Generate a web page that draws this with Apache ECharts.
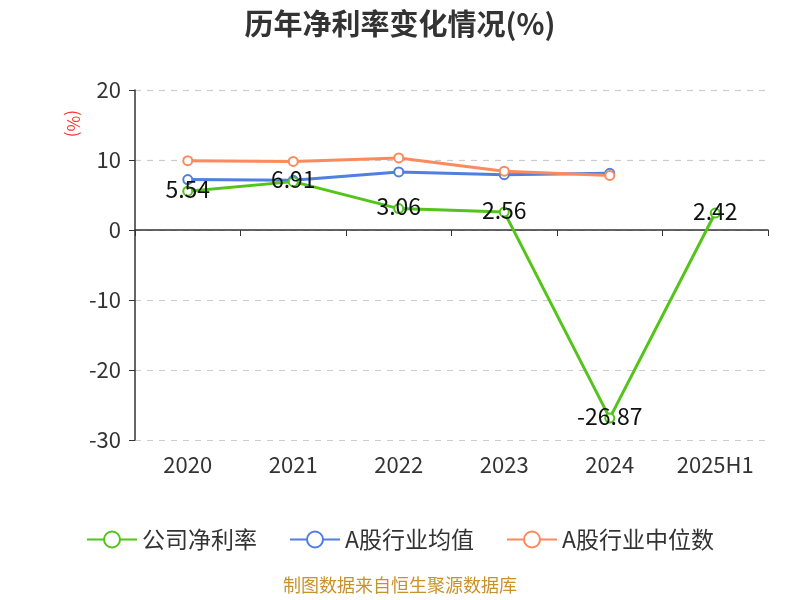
<!DOCTYPE html>
<html><head><meta charset="utf-8">
<script src="https://cdn.jsdelivr.net/npm/echarts@6/dist/echarts.min.js"></script>
<style>html,body{margin:0;padding:0;background:#fff}#c{width:800px;height:600px}</style>
</head><body><div id="c"></div>
<script>
const categories = ['2020','2021','2022','2023','2024','2025H1'];
const companyNet = [5.54, 6.91, 3.06, 2.56, -26.87, 2.42];
const industryAvg = [7.2, 7.1, 8.3, 7.9, 8.1, null];
const industryMedian = [9.9, 9.8, 10.3, 8.4, 7.8, null];

const chart = echarts.init(document.getElementById('c'));
const font = '"Microsoft YaHei","Noto Sans CJK SC",sans-serif';
chart.setOption({
  backgroundColor: '#fff',
  textStyle: {fontFamily: font},
  title: {text: '历年净利率变化情况(%)', left: 'center', top: 4,
    textStyle: {fontSize: 29, fontWeight: 'bold', color: '#333', fontFamily: font}},
  graphic: [
    {type: 'text', left: 'center', top: 576, style: {text: '制图数据来自恒生聚源数据库', fill: '#c8922a', fontSize: 18, fontFamily: font}},
    {type: 'text', x: 82, y: 110, rotation: -Math.PI/2, style: {text: '(%)', fill: '#f33', fontSize: 17, fontFamily: font}}
  ],
  legend: {bottom: 44, itemGap: 32, itemWidth: 50, itemHeight: 20,
    textStyle: {fontSize: 23, color: '#333'},
    data: ['公司净利率','A股行业均值','A股行业中位数']},
  grid: {left: 135, right: 32, top: 90, bottom: 160},
  xAxis: [
    {type: 'category', data: categories, position: 'bottom',
     axisLine: {show: true, onZero: true, lineStyle: {color: '#333', width: 1.5}},
     axisTick: {show: true, length: 6, lineStyle: {color: '#333'}},
     axisLabel: {show: false}},
    {type: 'category', data: categories, position: 'bottom',
     axisLine: {show: false, onZero: false}, axisTick: {show: false},
     axisLabel: {fontSize: 22, color: '#333', margin: 14}}
  ],
  yAxis: {type: 'value', min: -30, max: 20, interval: 10,
    axisLine: {show: true, lineStyle: {color: '#333', width: 1.5}},
    axisTick: {show: true, length: 6, lineStyle: {color: '#333'}},
    axisLabel: {fontSize: 22, color: '#333', margin: 14},
    splitLine: {lineStyle: {type: [6, 6], color: '#ccc', width: 1.2}}},
  series: [
    {name: '公司净利率', type: 'line', data: companyNet, symbol: 'emptyCircle', symbolSize: 9,
     itemStyle: {color: '#52c41a'}, lineStyle: {width: 3, color: '#52c41a'}, z: 3,
     label: {show: true, position: 'inside', offset: [0, -2], fontSize: 23, color: '#111'}},
    {name: 'A股行业均值', type: 'line', data: industryAvg, symbol: 'emptyCircle', symbolSize: 9,
     itemStyle: {color: '#4f7fe0'}, lineStyle: {width: 3, color: '#4f7fe0'}, z: 2},
    {name: 'A股行业中位数', type: 'line', data: industryMedian, symbol: 'emptyCircle', symbolSize: 9,
     itemStyle: {color: '#fd8a5c'}, lineStyle: {width: 3, color: '#fd8a5c'}, z: 2}
  ]
});
</script></body></html>
